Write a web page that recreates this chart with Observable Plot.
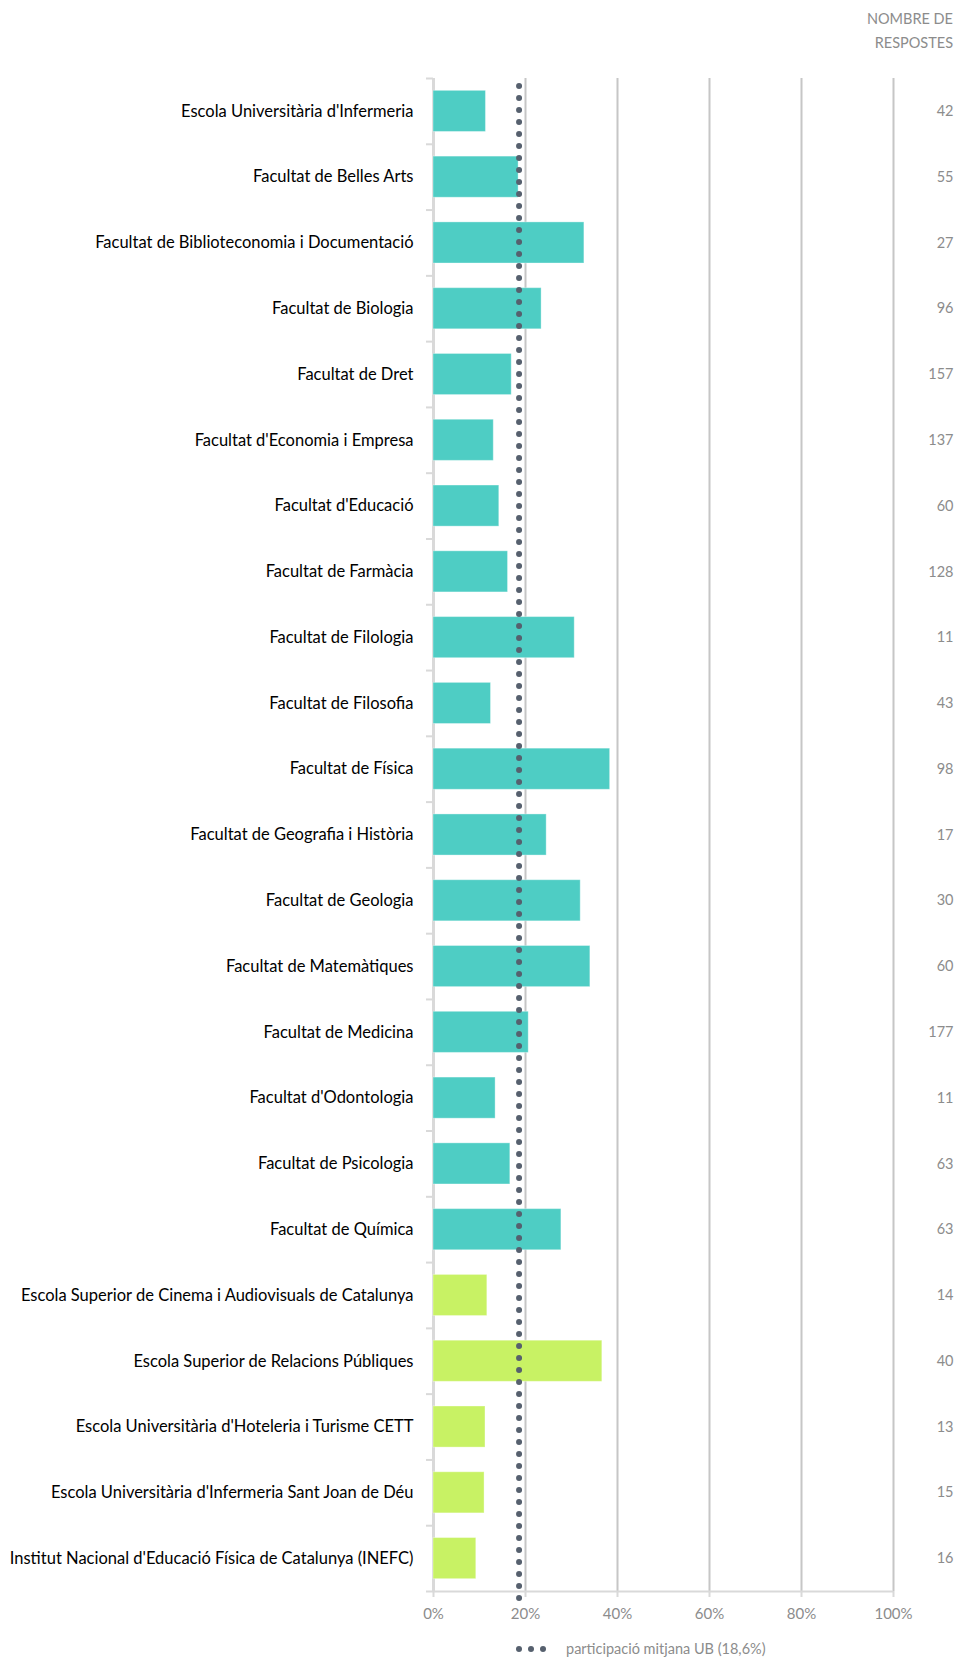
<!DOCTYPE html>
<html>
<head>
<meta charset="utf-8">
<script src="https://cdn.jsdelivr.net/npm/d3@7"></script>
<script src="https://cdn.jsdelivr.net/npm/@observablehq/plot@0.6"></script>
<style>
  html, body { margin: 0; padding: 0; background: #fff; }
  #wrap { position: relative; width: 957px; height: 1658px; font-family: Lato, "Open Sans", sans-serif; }
  #header { position: absolute; right: 4px; top: 7px; text-align: right; color: #8c8c8c; font-size: 14.5px; line-height: 24px; }
  #legend { position: absolute; left: 516px; top: 1640px; color: #8c8c8c; font-size: 14.5px; display: flex; align-items: center; }
  #legend svg { margin-right: 20px; }
  #chart { position: absolute; left: 0; top: 0; }
</style>
</head>
<body>
<div id="wrap">
  <div id="chart"></div>
  <div id="header">NOMBRE DE<br>RESPOSTES</div>
  <div id="legend"></div>
</div>
<script>
const categories = [
  "Escola Universitària d'Infermeria",
  "Facultat de Belles Arts",
  "Facultat de Biblioteconomia i Documentació",
  "Facultat de Biologia",
  "Facultat de Dret",
  "Facultat d'Economia i Empresa",
  "Facultat d'Educació",
  "Facultat de Farmàcia",
  "Facultat de Filologia",
  "Facultat de Filosofia",
  "Facultat de Física",
  "Facultat de Geografia i Història",
  "Facultat de Geologia",
  "Facultat de Matemàtiques",
  "Facultat de Medicina",
  "Facultat d'Odontologia",
  "Facultat de Psicologia",
  "Facultat de Química",
  "Escola Superior de Cinema i Audiovisuals de Catalunya",
  "Escola Superior de Relacions Públiques",
  "Escola Universitària d'Hoteleria i Turisme CETT",
  "Escola Universitària d'Infermeria Sant Joan de Déu",
  "Institut Nacional d'Educació Física de Catalunya (INEFC)"
];
const participation = [11.4, 18.5, 32.8, 23.5, 17.0, 13.1, 14.3, 16.2, 30.7, 12.5, 38.4, 24.6, 32.0, 34.1, 20.7, 13.5, 16.7, 27.8, 11.7, 36.7, 11.3, 11.1, 9.3];
const responses = [42, 55, 27, 96, 157, 137, 60, 128, 11, 43, 98, 17, 30, 60, 177, 11, 63, 63, 14, 40, 13, 15, 16];
const groups = ["propi","propi","propi","propi","propi","propi","propi","propi","propi","propi","propi","propi","propi","propi","propi","propi","propi","propi","adscrit","adscrit","adscrit","adscrit","adscrit"];
const xTicks = [0, 20, 40, 60, 80, 100];
const averageUB = 18.6;
const legendLabel = "participació mitjana UB (18,6%)";

const data = categories.map((c, i) => ({category: c, value: participation[i], n: responses[i], group: groups[i]}));

const W = 957, H = 1625, mT = 78, mB = 34;
const step = (H - mT - mB) / categories.length;

const plot = Plot.plot({
  width: W,
  height: H,
  marginTop: mT,
  marginBottom: mB,
  marginLeft: 433,
  marginRight: 64,
  style: {fontFamily: "Lato, 'Open Sans', sans-serif", background: "#fff"},
  x: {domain: [0, 100], axis: null},
  y: {domain: categories, paddingInner: 0.375, paddingOuter: 0.1875, round: false, axis: null},
  color: {domain: ["propi", "adscrit"], range: ["#4ecdc4", "#c8f264"]},
  marks: [
    Plot.gridX(xTicks.filter(d => d > 0), {stroke: "#c6c6c6", strokeOpacity: 1, strokeWidth: 2}),
    Plot.ruleX([0], {stroke: "#d9d9d9", strokeWidth: 3}),
    Plot.barX(data, {y: "category", x: "value", fill: "group", stroke: "#ffffff", strokeOpacity: 0.35, strokeWidth: 1}),
    Plot.ruleY(categories, {y: d => d, x1: 0, x2: 0, insetLeft: -7, dy: -step / 2, stroke: "#d9d9d9", strokeWidth: 2}),
    Plot.ruleY([categories[categories.length - 1]], {y: d => d, x1: 0, x2: 100, insetLeft: -7, dy: step / 2, stroke: "#d9d9d9", strokeWidth: 2}),
    Plot.axisX({ticks: xTicks, tickFormat: d => d + "%", tickSize: 6, tickPadding: 11, stroke: "#d9d9d9", strokeWidth: 2, fill: "#8c8c8c", fontSize: 15, label: null}),
    Plot.axisY({tickSize: 0, tickPadding: 20, fill: "#000", fontSize: 16.5, label: null}),
    Plot.ruleX([averageUB], {stroke: "#56606e", strokeWidth: 6, strokeDasharray: "0 12", strokeLinecap: "round", insetTop: 8, insetBottom: -9}),
    Plot.text(data, {y: "category", text: "n", frameAnchor: "right", dx: 60, textAnchor: "end", fill: "#8c8c8c", fontSize: 14.5})
  ]
});
document.getElementById("chart").appendChild(plot);

// legend
const leg = d3.select("#legend");
const ls = leg.append("svg").attr("width", 30).attr("height", 10);
ls.selectAll("circle").data([0, 1, 2]).join("circle")
  .attr("cx", d => 3 + d * 12).attr("cy", 5).attr("r", 3).attr("fill", "#56606e");
leg.append("span").text(legendLabel);
</script>
</body>
</html>
